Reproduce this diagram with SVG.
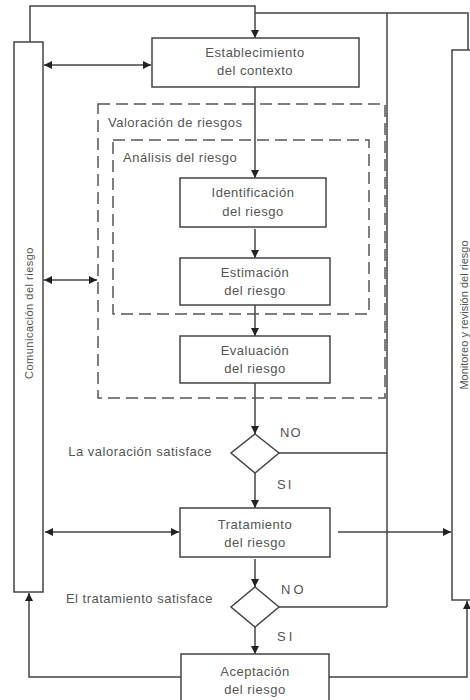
<svg xmlns="http://www.w3.org/2000/svg" width="470" height="700" viewBox="0 0 470 700">
<defs>
<marker id="ah" viewBox="0 0 10 10" refX="10" refY="5" markerWidth="8" markerHeight="8" markerUnits="userSpaceOnUse" orient="auto-start-reverse">
<path d="M0,0 L10,5 L0,10 z" fill="#222"/>
</marker>
<style>
.box{fill:#fff;stroke:#444;stroke-width:1.5}
.dash{fill:none;stroke:#555;stroke-width:1.5;stroke-dasharray:12 6}
.ln{fill:none;stroke:#444;stroke-width:1.5}
.t{font-family:"Liberation Sans",Arial,sans-serif;font-size:13px;fill:#555;letter-spacing:0.5px}
.c{text-anchor:middle}
.r{text-anchor:end}
.v{font-family:"Liberation Sans",Arial,sans-serif;font-size:11px;fill:#555;text-anchor:middle}
</style>
</defs>
<rect width="470" height="700" fill="#fff"/>

<g id="connectors">
<!-- top feedback loop -->
<path class="ln" d="M30,42 V6 H255 V38" marker-end="url(#ah)"/>
<path class="ln" d="M255,13 H468 V50"/>
<path class="ln" d="M387,13 V607"/>
<!-- main flow -->
<path class="ln" d="M255,87 V178" marker-end="url(#ah)"/>
<path class="ln" d="M255,229 V258" marker-end="url(#ah)"/>
<path class="ln" d="M255,305 V336" marker-end="url(#ah)"/>
<path class="ln" d="M255,383 V434" marker-end="url(#ah)"/>
<path class="ln" d="M255,473 V508" marker-end="url(#ah)"/>
<path class="ln" d="M255,559 V587" marker-end="url(#ah)"/>
<path class="ln" d="M255,627 V654" marker-end="url(#ah)"/>
<!-- NO branches -->
<path class="ln" d="M279,453 H387"/>
<path class="ln" d="M279,607 H387"/>
<!-- double arrows to communication -->
<path class="ln" d="M44,65 H151" marker-start="url(#ah)" marker-end="url(#ah)"/>
<path class="ln" d="M44,280 H97" marker-start="url(#ah)" marker-end="url(#ah)"/>
<path class="ln" d="M45,532 H179" marker-start="url(#ah)" marker-end="url(#ah)"/>
<!-- to monitoring -->
<path class="ln" d="M338,532 H451" marker-end="url(#ah)"/>
<!-- bottom -->
<path class="ln" d="M181,677 H29 V593" marker-end="url(#ah)"/>
<path class="ln" d="M329,677 H467 V601" marker-end="url(#ah)"/>
</g>

<g id="valoracion">
<rect class="dash" x="98" y="104" width="287" height="294"/>
<text class="t" x="108" y="127">Valoración de riesgos</text>
</g>
<g id="analisis">
<rect class="dash" x="113" y="140" width="256" height="174"/>
<text class="t" x="123" y="162">Análisis del riesgo</text>
</g>

<g id="comunicacion">
<rect class="box" x="14" y="42" width="29" height="550"/>
<text class="v" transform="translate(33,313) rotate(-90)" style="letter-spacing:0.5px">Comunicación del riesgo</text>
</g>
<g id="monitoreo">
<rect class="box" x="452" y="50" width="30" height="550"/>
<text class="v" transform="translate(468,315) rotate(-90)">Monitoreo y revisión del riesgo</text>
</g>

<g id="establecimiento">
<rect class="box" x="152" y="38" width="207" height="49"/>
<text class="t c" x="255" y="57">Establecimiento</text>
<text class="t c" x="255" y="75">del contexto</text>
</g>
<g id="identificacion">
<rect class="box" x="180" y="178" width="146" height="49"/>
<text class="t c" x="253" y="197">Identificación</text>
<text class="t c" x="253" y="216">del riesgo</text>
</g>
<g id="estimacion">
<rect class="box" x="180" y="258" width="150" height="47"/>
<text class="t c" x="255" y="277">Estimación</text>
<text class="t c" x="255" y="295">del riesgo</text>
</g>
<g id="evaluacion">
<rect class="box" x="180" y="336" width="150" height="47"/>
<text class="t c" x="255" y="355">Evaluación</text>
<text class="t c" x="255" y="373">del riesgo</text>
</g>
<g id="decision1">
<path class="box" d="M255,434 L279,453 L255,473 L231,453 Z"/>
<text class="t r" x="212" y="456">La valoración satisface</text>
<text class="t" x="280" y="437" style="letter-spacing:1px">NO</text>
<text class="t" x="277" y="489" style="letter-spacing:2px">SI</text>
</g>
<g id="tratamiento">
<rect class="box" x="180" y="508" width="150" height="49"/>
<text class="t c" x="255" y="529">Tratamiento</text>
<text class="t c" x="255" y="547">del riesgo</text>
</g>
<g id="decision2">
<path class="box" d="M255,587 L279,607 L255,627 L231,607 Z"/>
<text class="t r" x="213" y="603">El tratamiento satisface</text>
<text class="t" x="281" y="594" style="letter-spacing:3px">NO</text>
<text class="t" x="277" y="641" style="letter-spacing:3px">SI</text>
</g>
<g id="aceptacion">
<rect class="box" x="181" y="654" width="148" height="60"/>
<text class="t c" x="255" y="676">Aceptación</text>
<text class="t c" x="255" y="694">del riesgo</text>
</g>
</svg>
